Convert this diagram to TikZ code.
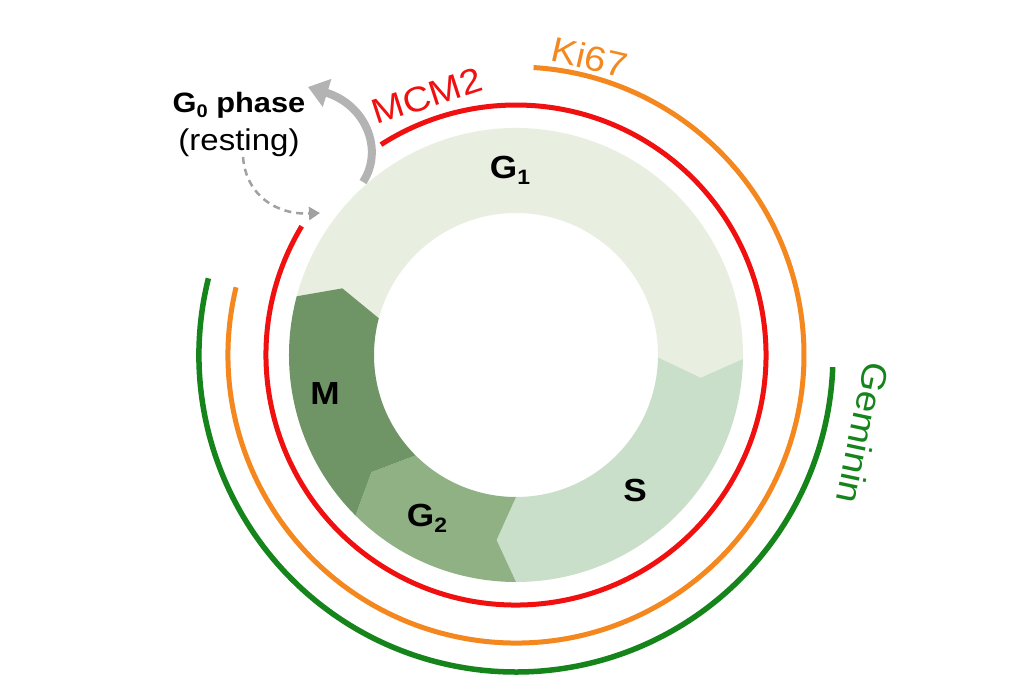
\documentclass[tikz,border=0pt]{standalone}
\usepackage{fontspec}
\setmainfont[FakeStretch=1.1]{Liberation Sans}
\usetikzlibrary{arrows.meta}
\definecolor{gone}{HTML}{E8EFE0}
\definecolor{sphase}{HTML}{CADFC9}
\definecolor{gtwo}{HTML}{8FB183}
\definecolor{mphase}{HTML}{6F9567}
\definecolor{mcmred}{HTML}{F01010}
\definecolor{kiorange}{HTML}{F5871F}
\definecolor{gemgreen}{HTML}{15841A}
\definecolor{arrgray}{HTML}{B3B3B3}
\newcommand{\lowsub}[1]{\raisebox{-0.18em}{\fontsize{0.65em}{0.65em}\selectfont #1}}
\newcommand{\phaseseg}[3]{%
  \fill[#3] (#1:227pt) arc[start angle=#1, end angle=#2, radius=227pt]
    -- ({#2-6}:186pt) -- (#2:142pt)
    arc[start angle=#2, end angle=#1, radius=142pt]
    -- ({#1-6}:186pt) -- cycle;}
\begin{document}
\begin{tikzpicture}[x=1pt,y=1pt,
  phaselab/.style={font=\fontsize{32}{38}\selectfont\bfseries, text=black, inner sep=0pt},
  marklab/.style={font=\fontsize{35}{40}\selectfont, inner sep=0pt},
  markarc/.style={line width=5pt}]
\useasboundingbox (-516,-333) rectangle (511,355);
\fill[white] (-516,-333) rectangle (511,355);
% ring segments
\phaseseg{165}{-1}{gone}
\phaseseg{-1}{-90}{sphase}
\phaseseg{-90}{-135}{gtwo}
\phaseseg{-135}{-195}{mphase}
% marker arcs
\draw[markarc, mcmred] (149:250pt) arc[start angle=149, end angle=482.7, radius=250pt];
\draw[markarc, kiorange] (166.4:288pt) arc[start angle=166.4, end angle=446.5, radius=288pt];
\draw[markarc, gemgreen, line width=5.5pt] (166:317pt) arc[start angle=166, end angle=357.8, radius=317pt];
% marker labels
\node[marklab, text=mcmred, rotate=18] (mcm) at (-89,259) {MCM2};
\node[marklab, text=kiorange, rotate=-13] (ki) at (74,298) {Ki67};
\node[marklab, text=gemgreen, rotate=-102] (gem) at (347,-78) {Geminin};
% phase labels
\node[phaselab] (g1) at (-6,185) {G\lowsub{1}};
\node[phaselab] (m) at (-191,-38) {M};
\node[phaselab] (g2) at (-89,-163) {G\lowsub{2}};
\node[phaselab] (s) at (119,-135) {S};
% G0
\node[font=\fontsize{28}{38}\selectfont, align=center, inner sep=0pt] (g0) at (-277,231)
  {\textbf{G\lowsub{0} phase}\\\fontsize{30}{38}\selectfont(resting)};
\coordinate (exitstart) at (-153,173);
\coordinate (exittip) at (-208,268);
\coordinate (retstart) at (-273,198);
\coordinate (rettip) at (-196,142);
\draw[arrgray, line width=8pt, -{Triangle[width=28pt,length=20pt]}]
  (exitstart) .. controls (-132,205) and (-150,250) .. (exittip);
\draw[arrgray!90!black, line width=2.5pt, dash pattern=on 7pt off 5pt, -{Triangle[width=13pt,length=11pt]}]
  (retstart) .. controls (-270,160) and (-240,140) .. (rettip);
\end{tikzpicture}
\end{document}
